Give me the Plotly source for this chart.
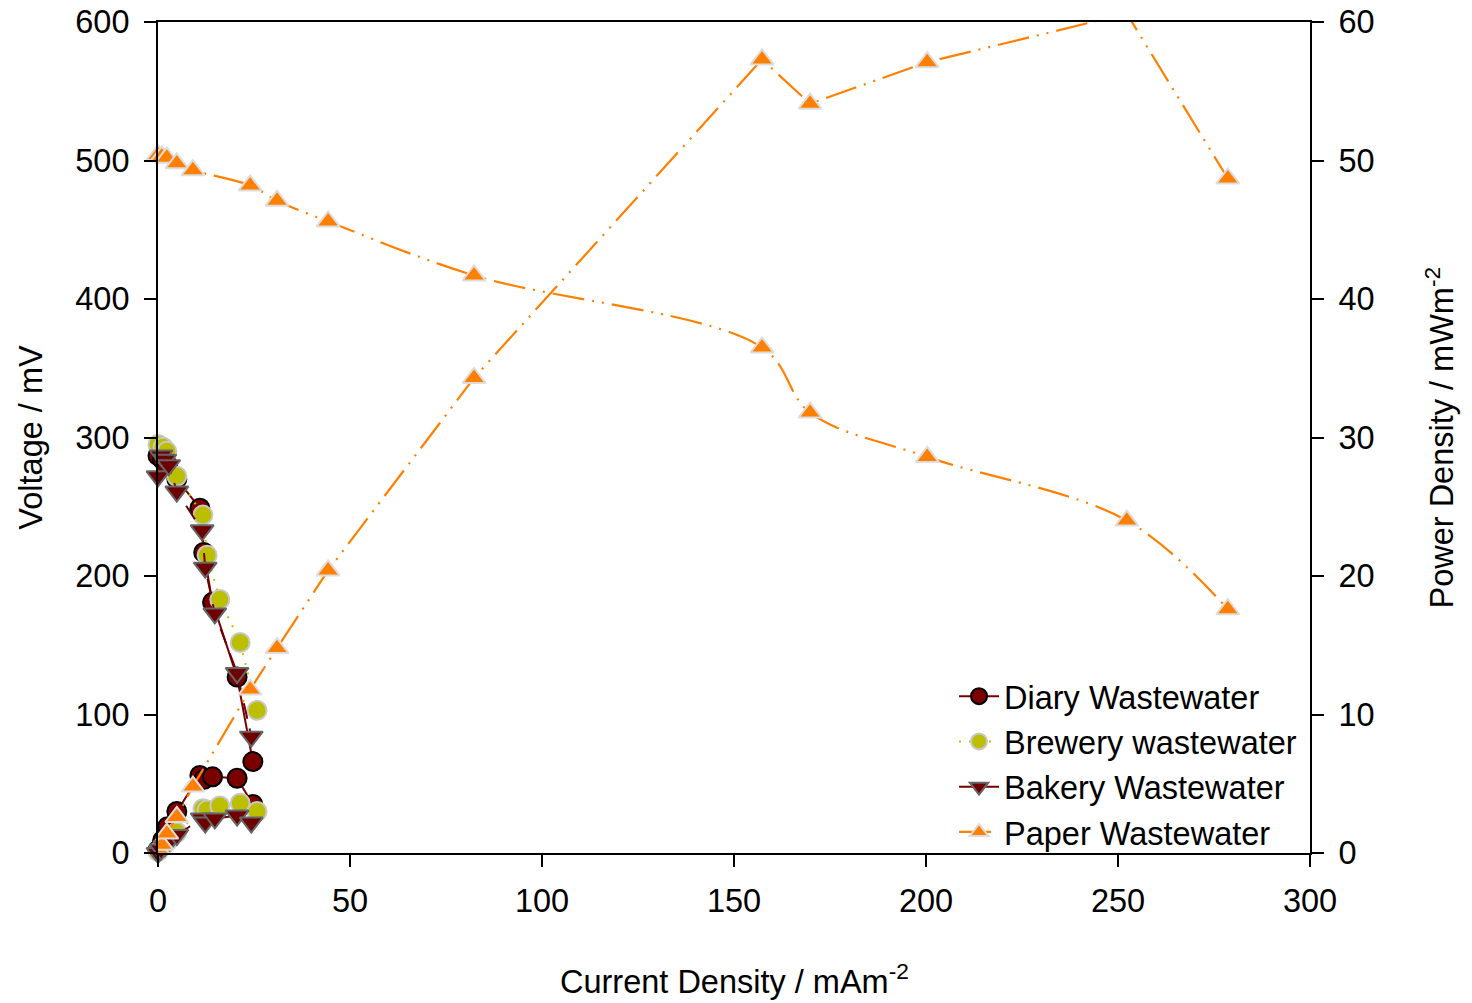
import plotly.graph_objects as go

# ---------------- data ----------------
diary_current = [0, 1.2, 2.5, 4.9, 10.9, 11.9, 14.2, 20.6, 24.7]
diary_voltage = [287, 284, 280, 270, 249, 217, 181, 127, 66]
diary_power = [0.2, 0.9, 1.9, 3.0, 5.6, 5.3, 5.5, 5.4, 3.5]

brewery_current = [0, 1.3, 2.3, 4.9, 11.7, 12.8, 16.1, 21.4, 25.8]
brewery_voltage = [295, 293, 290, 272, 244, 215, 183, 152, 103]
brewery_power = [0.1, 0.5, 0.8, 1.5, 3.2, 3.1, 3.4, 3.6, 3.0]

bakery_current = [0, 0.8, 1.8, 2.8, 4.9, 11.5, 12.3, 14.8, 20.6, 24.3]
bakery_voltage = [272, 287, 284, 280, 261, 233, 206, 173, 130, 84]
bakery_power = [0.0, 0.25, 0.5, 0.8, 1.3, 2.5, 2.2, 2.5, 2.7, 2.2]

paper_current = [0, 1.0, 2.3, 4.9, 9.1, 24.0, 31.0, 44.3, 82.3, 157.3, 169.8, 200.3, 252.3, 278.6]
paper_voltage = [504, 503, 502, 498, 493, 482, 471, 456, 417, 365, 318, 286, 240, 176]
paper_power = [0.3, 0.6, 1.4, 2.6, 4.8, 11.8, 14.8, 20.4, 34.3, 57.3, 54.1, 57.1, 60.6, 48.7]

x_ticks = [0, 50, 100, 150, 200, 250, 300]
v_ticks = [0, 100, 200, 300, 400, 500, 600]
p_ticks = [0, 10, 20, 30, 40, 50, 60]

FONT = "Liberation Sans, Arial, sans-serif"
FS = 32.5

styles = {
    "Diary Wastewater": dict(
        line=dict(color="#7a0000", width=2, dash="solid"),
        marker=dict(symbol="circle", size=19, color="#7a0000",
                    line=dict(color="#000000", width=2)),
    ),
    "Brewery wastewater": dict(
        line=dict(color="#bfc000", width=2, dash="2px,8px"),
        marker=dict(symbol="circle", size=19, color="#bcbf00",
                    line=dict(color="#c8c8c8", width=2)),
    ),
    "Bakery Wastewater": dict(
        line=dict(color="#6e0000", width=2, dash="16px,10px"),
        marker=dict(symbol="triangle-down", size=20, color="#6e0000",
                    line=dict(color="#666666", width=2)),
    ),
    "Paper Wastewater": dict(
        line=dict(color="#ff8000", width=2.2, dash="32px,8px,2px,8px,2px,8px"),
        marker=dict(symbol="triangle-up", size=20, color="#ff8000",
                    line=dict(color="#dddddd", width=2)),
    ),
}

series = [
    ("Diary Wastewater", diary_current, diary_voltage, diary_power),
    ("Brewery wastewater", brewery_current, brewery_voltage, brewery_power),
    ("Bakery Wastewater", bakery_current, bakery_voltage, bakery_power),
    ("Paper Wastewater", paper_current, paper_voltage, paper_power),
]

fig = go.Figure()
for name, cur, volt, pw in series:
    st = styles[name]
    is_paper = name.startswith("Paper")
    vline = dict(st["line"])
    if is_paper:
        vline["shape"] = "spline"
        vline["smoothing"] = 1.0
    fig.add_trace(go.Scatter(
        x=cur, y=volt, name=name, mode="lines+markers",
        line=vline, marker=st["marker"], cliponaxis=False, yaxis="y",
    ))
for name, cur, volt, pw in series:
    st = styles[name]
    is_paper = name.startswith("Paper")
    fig.add_trace(go.Scatter(
        x=cur, y=pw, name=name, showlegend=False,
        mode="lines+markers", line=st["line"], marker=st["marker"],
        cliponaxis=is_paper, yaxis="y2",
    ))

axis_common = dict(
    showgrid=False, zeroline=False, showline=True, linecolor="black",
    linewidth=2, ticks="outside", ticklen=12, tickwidth=2, tickcolor="black",
    tickfont=dict(family=FONT, size=FS, color="black"), automargin=False,
)

fig.update_layout(
    width=1472, height=1003,
    margin=dict(l=158, r=162, t=22, b=150, autoexpand=False),
    paper_bgcolor="white", plot_bgcolor="white",
    font=dict(family=FONT, size=FS, color="black"),
    xaxis=dict(range=[0, 300], tickvals=x_ticks, mirror=True,
               ticklabelstandoff=6, **axis_common),
    yaxis=dict(range=[0, 600], tickvals=v_ticks, ticklabelstandoff=8,
               **axis_common),
    yaxis2=dict(range=[0, 60], tickvals=p_ticks, overlaying="y", side="right",
                ticklabelstandoff=8, **axis_common),
    legend=dict(
        x=0.691, y=0.222, xanchor="left", yanchor="top",
        bgcolor="rgba(0,0,0,0)", font=dict(family=FONT, size=FS),
        tracegroupgap=0, itemwidth=40,
    ),
    showlegend=True,
    annotations=[
        dict(text="Current Density / mAm<sup>-2</sup>", xref="paper", yref="paper",
             x=0.5, y=-0.152, xanchor="center", yanchor="middle",
             showarrow=False, font=dict(family=FONT, size=FS)),
        dict(text="Voltage / mV", xref="paper", yref="paper",
             x=-0.111, y=0.5, xanchor="center", yanchor="middle", textangle=-90,
             showarrow=False, font=dict(family=FONT, size=FS)),
        dict(text="Power Density / mWm<sup>-2</sup>", xref="paper", yref="paper",
             x=1.112, y=0.5, xanchor="center", yanchor="middle", textangle=-90,
             showarrow=False, font=dict(family=FONT, size=FS)),
    ],
)

fig.write_html("out.html")
